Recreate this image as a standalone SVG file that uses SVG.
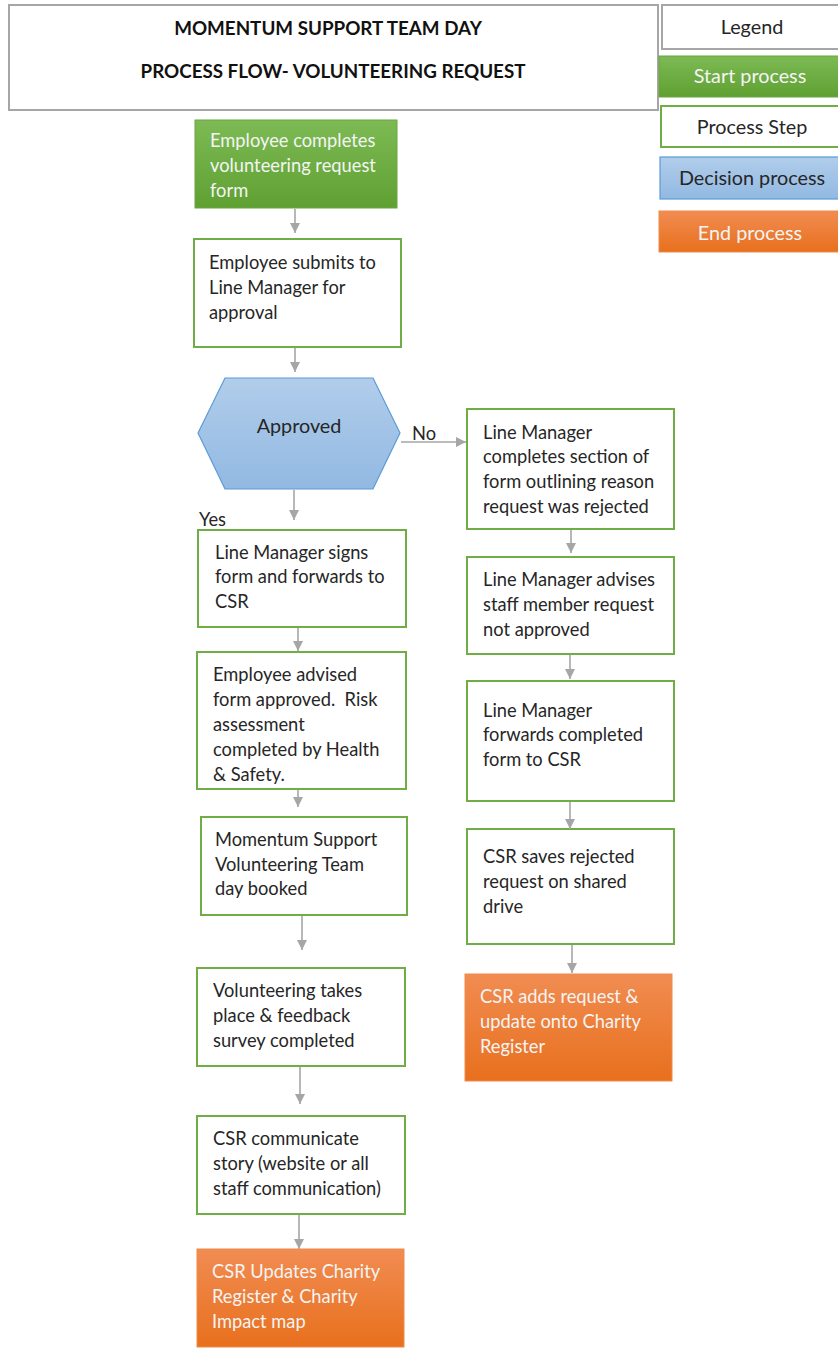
<svg xmlns="http://www.w3.org/2000/svg" width="838" height="1349" viewBox="0 0 838 1349">
<style>
text{font-family:Lato,"Liberation Sans",sans-serif;font-size:18.3px;fill:#262626}
.w{fill:#f4f4f4}
.t{font-weight:bold;font-size:18.8px;text-anchor:middle;fill:#111}
.c{text-anchor:middle}
.lg{font-size:19.8px}
.step{fill:#fff;stroke:#70ad47;stroke-width:2}
.gray{fill:#fff;stroke:#a6a6a6;stroke-width:2}
.start{fill:url(#gG);stroke:#6aa640;stroke-width:1}
.end{fill:url(#gO);stroke:#f08a4b;stroke-width:1}
.dec{fill:url(#gB);stroke:#5b9bd5;stroke-width:1.2}
.ar{stroke:#a6a6a6;stroke-width:1.6;fill:none;marker-end:url(#ah)}
</style>
<defs>
<linearGradient id="gG" x1="0" y1="0" x2="0" y2="1"><stop offset="0" stop-color="#7dba54"/><stop offset="1" stop-color="#5fa032"/></linearGradient>
<linearGradient id="gO" x1="0" y1="0" x2="0" y2="1"><stop offset="0" stop-color="#f18c52"/><stop offset="1" stop-color="#e8701d"/></linearGradient>
<linearGradient id="gB" x1="0" y1="0" x2="0" y2="1"><stop offset="0" stop-color="#b1cdeb"/><stop offset="1" stop-color="#92b9e2"/></linearGradient>
<marker id="ah" markerUnits="userSpaceOnUse" markerWidth="12" markerHeight="12" viewBox="0 0 12 12" refX="10" refY="6" orient="auto"><path d="M0,1 L10,6 L0,11 Z" fill="#a6a6a6"/></marker>
</defs>

<g id="title">
<rect x="9" y="5" width="649" height="105" class="gray"/>
<text class="t" x="328" y="35">MOMENTUM SUPPORT TEAM DAY</text>
<text class="t" x="333" y="78">PROCESS FLOW- VOLUNTEERING REQUEST</text>
</g>

<g id="legend">
<rect x="662" y="5" width="178" height="44" class="gray"/>
<text class="c lg" x="752" y="34">Legend</text>
</g>
<g id="legend-start">
<rect x="659" y="56" width="181" height="41" class="start"/>
<text class="c w lg" x="750" y="83">Start process</text>
</g>
<g id="legend-step">
<rect x="661" y="106" width="179" height="41" class="step"/>
<text class="c lg" x="752" y="134">Process Step</text>
</g>
<g id="legend-decision">
<rect x="660" y="157" width="180" height="42" class="dec"/>
<text class="c lg" x="752" y="185">Decision process</text>
</g>
<g id="legend-end">
<rect x="659" y="211" width="181" height="41" class="end"/>
<text class="c w lg" x="750" y="240">End process</text>
</g>

<g id="n1">
<rect x="195" y="120" width="202" height="88" class="start"/>
<text class="w" x="210" y="147">Employee completes</text>
<text class="w" x="210" y="172">volunteering request</text>
<text class="w" x="210" y="197">form</text>
</g>
<g id="n2">
<rect x="194" y="239" width="207" height="108" class="step"/>
<text x="209" y="269">Employee submits to</text>
<text x="209" y="294">Line Manager for</text>
<text x="209" y="319">approval</text>
</g>
<g id="n3">
<polygon points="198,433 225,378 373,378 400,433 373,489 225,489" class="dec"/>
<text class="c lg" x="299" y="433">Approved</text>
</g>
<g id="r1">
<rect x="467" y="409" width="207" height="120" class="step"/>
<text x="483" y="439">Line Manager</text>
<text x="483" y="463">completes section of</text>
<text x="483" y="488">form outlining reason</text>
<text x="483" y="513">request was rejected</text>
</g>
<g id="r2">
<rect x="467" y="557" width="207" height="97" class="step"/>
<text x="483" y="586">Line Manager advises</text>
<text x="483" y="611">staff member request</text>
<text x="483" y="636">not approved</text>
</g>
<g id="r3">
<rect x="467" y="681" width="207" height="120" class="step"/>
<text x="483" y="717">Line Manager</text>
<text x="483" y="741">forwards completed</text>
<text x="483" y="766">form to CSR</text>
</g>
<g id="r4">
<rect x="467" y="829" width="207" height="115" class="step"/>
<text x="483" y="863">CSR saves rejected</text>
<text x="483" y="888">request on shared</text>
<text x="483" y="913">drive</text>
</g>
<g id="r5">
<rect x="465" y="974" width="207" height="107" class="end"/>
<text class="w" x="480" y="1003">CSR adds request &amp;</text>
<text class="w" x="480" y="1028">update onto Charity</text>
<text class="w" x="480" y="1053">Register</text>
</g>
<g id="l3">
<rect x="198" y="530" width="208" height="97" class="step"/>
<text x="215" y="559">Line Manager signs</text>
<text x="215" y="583">form and forwards to</text>
<text x="215" y="608">CSR</text>
</g>
<g id="l4">
<rect x="197" y="652" width="209" height="137" class="step"/>
<text x="213" y="681">Employee advised</text>
<text x="213" y="706" xml:space="preserve">form approved.  Risk</text>
<text x="213" y="731">assessment</text>
<text x="213" y="756">completed by Health</text>
<text x="213" y="781">&amp; Safety.</text>
</g>
<g id="l5">
<rect x="201" y="817" width="206" height="98" class="step"/>
<text x="215" y="846">Momentum Support</text>
<text x="215" y="871">Volunteering Team</text>
<text x="215" y="895">day booked</text>
</g>
<g id="l6">
<rect x="197" y="968" width="208" height="98" class="step"/>
<text x="213" y="997">Volunteering takes</text>
<text x="213" y="1022">place &amp; feedback</text>
<text x="213" y="1047">survey completed</text>
</g>
<g id="l7">
<rect x="197" y="1116" width="208" height="98" class="step"/>
<text x="213" y="1145">CSR communicate</text>
<text x="213" y="1170">story (website or all</text>
<text x="213" y="1195">staff communication)</text>
</g>
<g id="l8">
<rect x="197" y="1249" width="207" height="98" class="end"/>
<text class="w" x="212" y="1278">CSR Updates Charity</text>
<text class="w" x="212" y="1303">Register &amp; Charity</text>
<text class="w" x="212" y="1328">Impact map</text>
</g>

<g id="connectors">
<line class="ar" x1="295" y1="209" x2="295" y2="233"/>
<line class="ar" x1="295" y1="348" x2="295" y2="372"/>
<line class="ar" x1="294" y1="490" x2="294" y2="520"/>
<line class="ar" x1="401" y1="442" x2="466" y2="442"/>
<line class="ar" x1="571" y1="530" x2="571" y2="553"/>
<line class="ar" x1="570" y1="655" x2="570" y2="679"/>
<line class="ar" x1="570" y1="802" x2="570" y2="829"/>
<line class="ar" x1="572" y1="945" x2="572" y2="973"/>
<line class="ar" x1="298" y1="628" x2="298" y2="651"/>
<line class="ar" x1="298" y1="790" x2="298" y2="807"/>
<line class="ar" x1="302" y1="916" x2="302" y2="950"/>
<line class="ar" x1="300" y1="1067" x2="300" y2="1104"/>
<line class="ar" x1="299" y1="1215" x2="299" y2="1249"/>
<text x="412" y="440">No</text>
<text x="199" y="526">Yes</text>
</g>
</svg>
